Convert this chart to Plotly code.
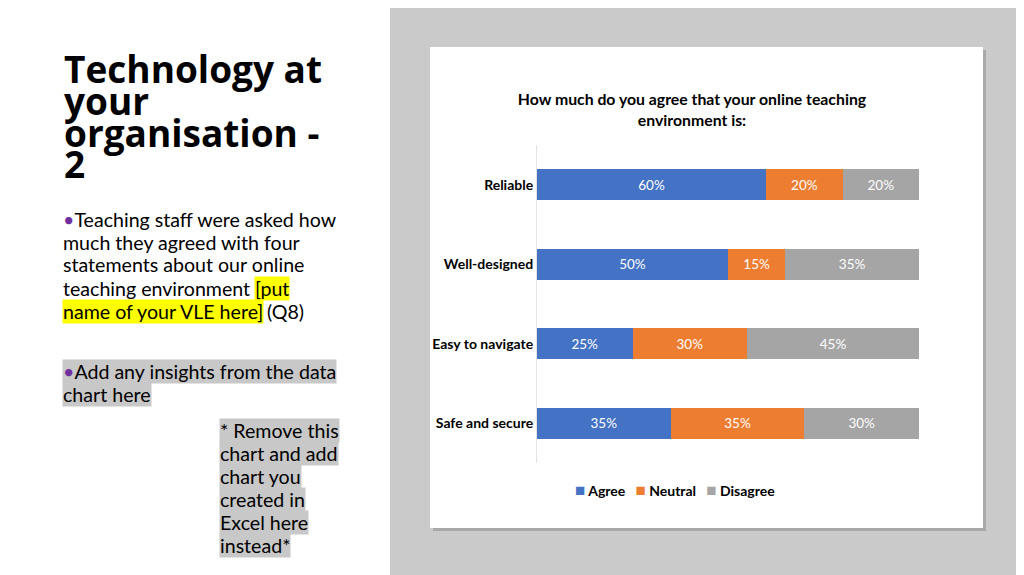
import plotly.graph_objects as go

# ==============================
# DATA
# ==============================
statements = ["Reliable", "Well-designed", "Easy to navigate", "Safe and secure"]
agree = [60, 50, 25, 35]
neutral = [20, 15, 30, 35]
disagree = [20, 35, 45, 30]

series_names = ["Agree", "Neutral", "Disagree"]
series_colors = ["#4472C4", "#ED7D31", "#A5A5A5"]

# the page puts an 8px margin round the figure, so work in page pixels
# and convert to paper coordinates of a 1016x567 figure
OFF = 8
W, H = 1024 - OFF, 575 - OFF


def px(x):
    return (x - OFF) / W


def py(y):
    return 1 - (y - OFF) / H


fig = go.Figure()

for name, vals, col in zip(series_names, [agree, neutral, disagree], series_colors):
    fig.add_trace(go.Bar(
        y=statements, x=vals, name=name, orientation="h",
        marker=dict(color=col, line=dict(width=0)),
        text=[f"{v}%" for v in vals], textposition="inside",
        insidetextanchor="middle",
        textfont=dict(family="Lato", size=13.5, color="white"),
        hoverinfo="skip", showlegend=False,
    ))

# slide background pieces
shapes = [
    dict(type="rect", xref="paper", yref="paper", x0=px(390), x1=1, y0=0, y1=1,
         fillcolor="#C9CAC9", line=dict(width=0), layer="below"),
    dict(type="rect", xref="paper", yref="paper", x0=px(433), x1=px(986), y0=py(531), y1=py(50),
         fillcolor="#A9A9A9", line=dict(width=0), layer="below"),
    dict(type="rect", xref="paper", yref="paper", x0=px(430), x1=px(983), y0=py(528), y1=py(47),
         fillcolor="white", line=dict(width=0), layer="below"),
]

annotations = []

# slide title, one line per annotation so the leading stays tight
title_lines = ["Technology at", "your", "organisation -", "2"]
for i, t in enumerate(title_lines):
    annotations.append(dict(
        text=t, x=px(62), y=py(69 + i * 31.5), xref="paper", yref="paper",
        xanchor="left", yanchor="middle", showarrow=False,
        font=dict(family="Open Sans", size=37, color="black", weight="bold"),
    ))

bullet = "<span style='color:#7030A0'>•</span>"
body_font = dict(family="Lato", size=19.6, color="black")


def note(text, x, y, bg=None):
    d = dict(text=text, x=px(x), y=py(y), xref="paper", yref="paper",
             xanchor="left", yanchor="middle", showarrow=False,
             font=body_font, borderpad=0)
    if bg:
        d["bgcolor"] = bg
    annotations.append(d)


note(bullet + "Teaching staff were asked how", 62, 219)
note("much they agreed with four", 62, 242)
note("statements about our online", 62, 265)
note("teaching environment", 62, 288)
note("[put", 254, 288, "#FFFF00")
note("name of your VLE here]", 62, 311, "#FFFF00")
note("(Q8)", 266, 311)

note(bullet + "Add any insights from the data", 62, 371, "#C8C8C8")
note("chart here", 62, 394, "#C8C8C8")

remove_lines = ["* Remove this", "chart and add", "chart you", "created in", "Excel here", "instead*"]
for i, t in enumerate(remove_lines):
    note(t, 219, 430 + i * 23, "#C8C8C8")

# legend written as text so the swatches sit close to their labels
legend_text = "&nbsp;&nbsp;&nbsp;".join(
    f"<span style='color:{c};font-size:17px'>■</span>&nbsp;{n}"
    for n, c in zip(series_names, series_colors)
)
annotations.append(dict(
    text=legend_text, x=px(675), y=py(489), xref="paper", yref="paper",
    xanchor="center", yanchor="middle", showarrow=False,
    font=dict(family="Lato", size=14, color="black", weight="bold"),
))

fig.update_layout(
    width=W, height=H,
    margin=dict(l=0, r=0, t=0, b=0),
    paper_bgcolor="white", plot_bgcolor="rgba(0,0,0,0)",
    barmode="stack", bargap=0.61, showlegend=False,
    title=dict(
        text="How much do you agree that your online teaching<br>environment is:",
        x=px(692), y=py(105), xanchor="center", yanchor="middle",
        font=dict(family="Lato", size=15.8, color="black", weight="bold"),
    ),
    xaxis=dict(domain=[px(537), px(919)], range=[0, 100], visible=False, fixedrange=True),
    yaxis=dict(domain=[py(463), py(145)], categoryorder="array",
               categoryarray=statements, autorange="reversed",
               showline=True, linecolor="#E3E3E3", linewidth=1,
               ticks="", ticklabelstandoff=0, showgrid=False,
               tickfont=dict(family="Lato", size=14, color="black", weight="bold")),
    shapes=shapes,
    annotations=annotations,
)

fig.write_html("out.html")
